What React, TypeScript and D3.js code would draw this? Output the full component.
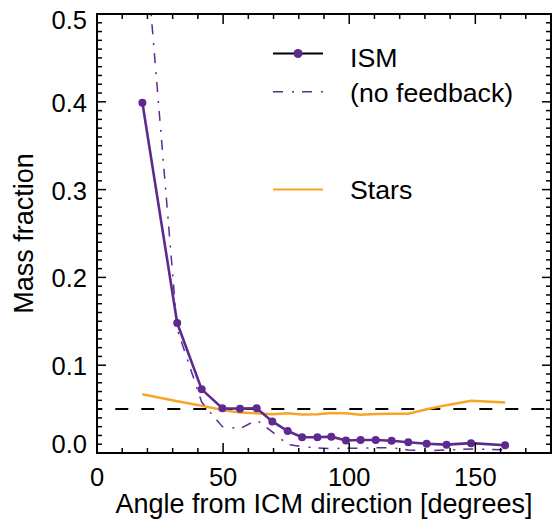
import { useEffect, useRef } from "react"
import * as d3 from "d3"

// bin centres (degrees) and mass fractions
const angles = [18, 31.8, 41.5, 49.7, 56.7, 63.3, 69.5, 75.6, 81.3, 87.4, 92.9, 98.7, 104.5, 110.5, 116.8, 123.4, 130.7, 138.6, 148.3, 161.8]
const ismFraction = [0.399, 0.148, 0.0725, 0.051, 0.0505, 0.051, 0.036, 0.025, 0.018, 0.018, 0.0186, 0.0143, 0.0148, 0.0148, 0.014, 0.0122, 0.0106, 0.0095, 0.0112, 0.0088]
const noFeedbackFraction = [0.62, 0.141, 0.058, 0.03, 0.0277, 0.0376, 0.024, 0.0099, 0.0072, 0.0058, 0.005, 0.0055, 0.0055, 0.006, 0.006, 0.0035, 0.0026, 0.0034, 0.0046, 0.0036]
const starsFraction = [0.0668, 0.059, 0.0537, 0.049, 0.046, 0.0453, 0.044, 0.0452, 0.0438, 0.044, 0.0455, 0.0452, 0.0436, 0.0444, 0.0448, 0.0448, 0.0498, 0.0545, 0.0594, 0.0575]
const referenceLevel = 0.05

const xTicks = [0, 50, 100, 150]
const yTicks = [0, 0.1, 0.2, 0.3, 0.4, 0.5]
const legendLabels = ["ISM", "(no feedback)", "Stars"]

const PURPLE = "#5d2b8f"
const ORANGE = "#f9a424"
const FONT = "Liberation Sans, Arial, Helvetica, sans-serif"

export default function App() {
  const svgRef = useRef<SVGSVGElement | null>(null)

  useEffect(() => {
    if (!svgRef.current) return
    const svg = d3.select(svgRef.current)
    svg.selectAll("*").remove()

    const left = 97, right = 551, top = 14, bottom = 453
    const x = d3.scaleLinear().domain([0, 180]).range([left, right])
    const y = d3.scaleLinear().domain([0, 0.5]).range([bottom, top])

    svg.append("clipPath").attr("id", "plotClip")
      .append("rect").attr("x", left).attr("y", top).attr("width", right - left).attr("height", bottom - top)

    const plot = svg.append("g").attr("clip-path", "url(#plotClip)")

    // horizontal reference line
    plot.append("line")
      .attr("x1", left).attr("x2", right)
      .attr("y1", y(referenceLevel)).attr("y2", y(referenceLevel))
      .attr("stroke", "black").attr("stroke-width", 2)
      .attr("stroke-dasharray", "13 13").attr("stroke-dashoffset", 7.7)

    const line = d3.line<number>().x((d, i) => x(angles[i])).y((d) => y(d))

    plot.append("path").attr("d", line(starsFraction))
      .attr("fill", "none").attr("stroke", ORANGE).attr("stroke-width", 2.5)

    plot.append("path").attr("d", line(noFeedbackFraction))
      .attr("fill", "none").attr("stroke", PURPLE).attr("stroke-width", 1.5)
      .attr("stroke-dasharray", "10 9 2 8")

    plot.append("path").attr("d", line(ismFraction))
      .attr("fill", "none").attr("stroke", PURPLE).attr("stroke-width", 2.6)

    plot.selectAll(".dot").data(ismFraction).enter().append("circle")
      .attr("cx", (d, i) => x(angles[i])).attr("cy", (d) => y(d))
      .attr("r", 4).attr("fill", PURPLE)

    // frame + ticks on all four sides
    const axes = svg.append("g").attr("stroke", "black").attr("stroke-width", 2)
    axes.append("rect").attr("x", left).attr("y", top).attr("width", right - left).attr("height", bottom - top)
      .attr("fill", "none")

    d3.range(0, 181, 10).forEach((v) => {
      const len = v % 50 === 0 ? 10 : 5
      axes.append("line").attr("x1", x(v)).attr("x2", x(v)).attr("y1", bottom).attr("y2", bottom - len).attr("stroke-width", 1.5)
      axes.append("line").attr("x1", x(v)).attr("x2", x(v)).attr("y1", top).attr("y2", top + len).attr("stroke-width", 1.5)
    })
    d3.range(0, 51, 1).forEach((k) => {
      const v = k / 100
      const len = k % 10 === 0 ? 9 : 5
      axes.append("line").attr("x1", left).attr("x2", left + len).attr("y1", y(v)).attr("y2", y(v)).attr("stroke-width", 1.5)
      axes.append("line").attr("x1", right).attr("x2", right - len).attr("y1", y(v)).attr("y2", y(v)).attr("stroke-width", 1.5)
    })

    // tick labels
    svg.selectAll(".xlab").data(xTicks).enter().append("text")
      .attr("x", (d) => x(d)).attr("y", 486)
      .attr("text-anchor", "middle").attr("font-family", FONT).attr("font-size", 25.5)
      .text((d) => d3.format("d")(d))

    svg.selectAll(".ylab").data(yTicks).enter().append("text")
      .attr("x", 87)
      .attr("y", (d) => Math.max(top + 15, Math.min(bottom, y(d) + 10)))
      .attr("text-anchor", "end").attr("font-family", FONT).attr("font-size", 25.5)
      .text((d) => d3.format(".1f")(d))

    // axis titles
    svg.append("text")
      .attr("x", (left + right) / 2).attr("y", 513)
      .attr("text-anchor", "middle").attr("font-family", FONT).attr("font-size", 27)
      .text("Angle from ICM direction [degrees]")

    svg.append("text")
      .attr("transform", `translate(33,${(top + bottom) / 2}) rotate(-90)`)
      .attr("text-anchor", "middle").attr("font-family", FONT).attr("font-size", 27)
      .text("Mass fraction")

    // legend
    const legend = svg.append("g")
    const lx0 = 273, lx1 = 323, tx = 350
    legend.append("line").attr("x1", lx0).attr("x2", lx1).attr("y1", 53.5).attr("y2", 53.5)
      .attr("stroke", "black").attr("stroke-width", 2)
    legend.append("circle").attr("cx", (lx0 + lx1) / 2).attr("cy", 53.5).attr("r", 4.5).attr("fill", PURPLE)
    legend.append("line").attr("x1", lx0).attr("x2", lx1).attr("y1", 91.7).attr("y2", 91.7)
      .attr("stroke", PURPLE).attr("stroke-width", 1.5).attr("stroke-dasharray", "10 9 2 8")
    legend.append("line").attr("x1", lx0).attr("x2", lx1).attr("y1", 189.5).attr("y2", 189.5)
      .attr("stroke", ORANGE).attr("stroke-width", 2)

    const baselines = [67, 101.5, 198.5]
    legend.selectAll(".ltext").data(legendLabels).enter().append("text")
      .attr("x", tx).attr("y", (d, i) => baselines[i])
      .attr("font-family", FONT).attr("font-size", 26.7)
      .text((d) => d)
  }, [])

  return (
    <svg
      ref={svgRef}
      width={555}
      height={521}
      style={{ position: "absolute", left: 0, top: 0, background: "white" }}
    ></svg>
  )
}
